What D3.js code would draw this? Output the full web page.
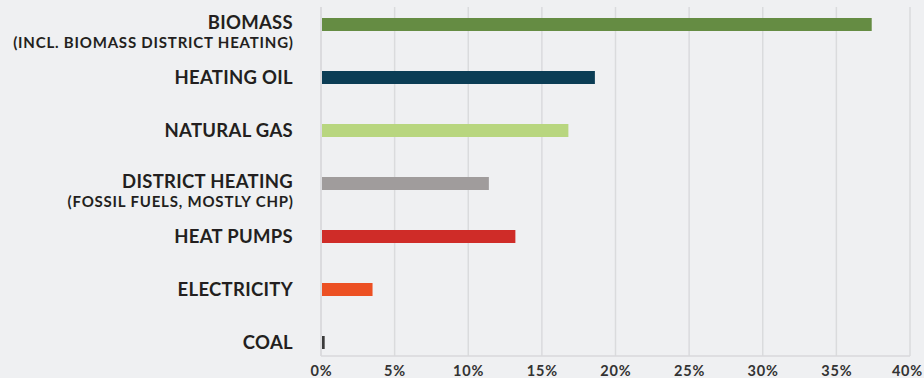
<!DOCTYPE html>
<html><head><meta charset="utf-8">
<script src="https://cdn.jsdelivr.net/npm/d3@7"></script>
<style>
html,body{margin:0;padding:0;background:#eff0f2;}
svg{display:block;font-family:Lato,"Open Sans",sans-serif;}
</style></head>
<body>
<svg id="c" width="924" height="378"></svg>
<script>
const categories = ["BIOMASS","HEATING OIL","NATURAL GAS","DISTRICT HEATING","HEAT PUMPS","ELECTRICITY","COAL"];
const subLabels = ["(INCL. BIOMASS DISTRICT HEATING)","","","(FOSSIL FUELS, MOSTLY CHP)","","",""];
const values = [37.4, 18.6, 16.8, 11.4, 13.2, 3.5, 0.25];
const colors = ["#658c43","#0b3d55","#b8d67f","#a09c9c","#cf2c28","#ec5023","#3a3a3a"];
const xTicks = [0,5,10,15,20,25,30,35,40];

(function(){
const svg = d3.select("#c");
const x = d3.scaleLinear().domain([0,40]).range([321,910]);
const y = d3.scalePoint().domain(categories).range([24.5,342.5]);
const plotTop = 7, plotBottom = 356, barH = 13;

svg.append("g").selectAll("line").data(xTicks).join("line")
  .attr("x1",d=>x(d)).attr("x2",d=>x(d)).attr("y1",plotTop).attr("y2",plotBottom)
  .attr("stroke",d=>d===0?"#d4d5d7":"#dadbdd").attr("stroke-width",1.5);
svg.append("line").attr("x1",x(0)).attr("x2",x(40)).attr("y1",plotBottom).attr("y2",plotBottom)
  .attr("stroke","#d8d9db").attr("stroke-width",1.5);

svg.append("g").selectAll("rect").data(categories).join("rect")
  .attr("x",x(0)+1).attr("y",d=>y(d)-barH/2)
  .attr("width",(d,i)=>Math.max(0,x(values[i])-x(0)-1)).attr("height",barH)
  .attr("fill",(d,i)=>colors[i]);

const lab = svg.append("g").attr("fill","#231f20").attr("font-weight",700).attr("text-anchor","end");
categories.forEach((c,i)=>{
  const sub = subLabels[i];
  lab.append("text").attr("x",293).attr("y",y(c)+(sub?4.3:6.3))
    .attr("font-size",18.5).attr("letter-spacing",0.3).text(c);
  if(sub) lab.append("text").attr("x",293.8).attr("y",y(c)+23.5)
    .attr("font-size",15).attr("letter-spacing",0.8).text(sub);
});

const tl = svg.append("g").attr("fill","#333").attr("font-weight",700).attr("font-size",14.5).attr("letter-spacing",0.8).attr("text-anchor","middle")
  .selectAll("text").data(xTicks).join("text")
  .attr("y",376).text(d=>d+"%");
tl.each(function(d){
  const w = this.getComputedTextLength();
  const cx = Math.min(x(d)+0.4, 923 - w/2);
  d3.select(this).attr("x",cx);
});
})();
</script>
</body></html>
